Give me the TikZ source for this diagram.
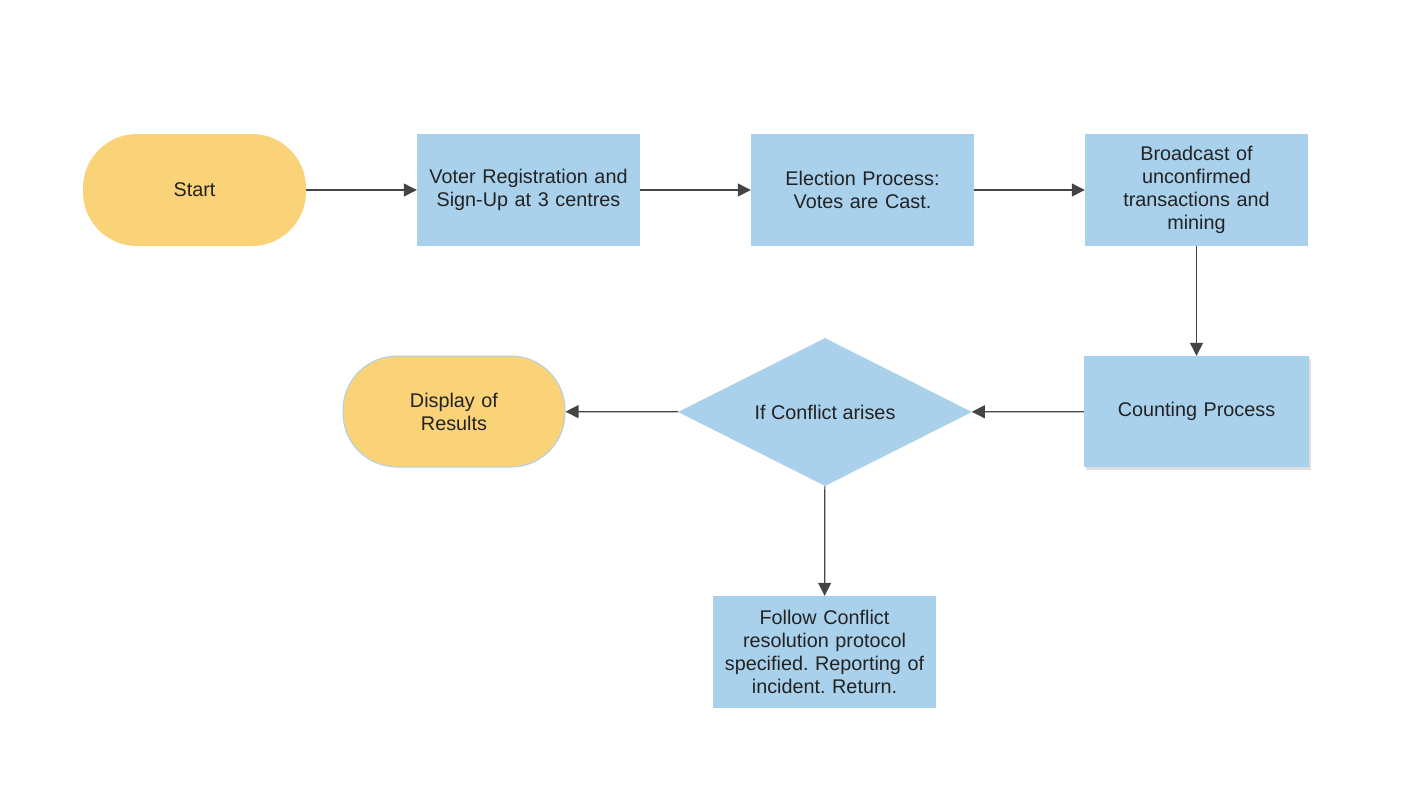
\documentclass[tikz,border=0pt]{standalone}
\usepackage{fontspec}
\setmainfont{Liberation Sans}
\frenchspacing
\usetikzlibrary{shapes.geometric,arrows.meta,shadows}
\definecolor{boxblue}{HTML}{AAD1EC}
\definecolor{termyellow}{HTML}{FAD278}
\definecolor{linegray}{HTML}{444444}
\definecolor{txt}{HTML}{222222}
\tikzset{
  every node/.style={font=\fontsize{19.8}{23}\selectfont, text=txt, align=center},
  procbox/.style={rectangle, fill=boxblue, minimum width=223pt, minimum height=112pt, inner sep=2pt, text width=219pt},
  termbox/.style={rectangle, rounded corners=54pt, fill=termyellow, minimum width=223pt, minimum height=112pt, text width=200pt},
  decbox/.style={diamond, fill=boxblue, minimum width=294pt, minimum height=148pt, inner sep=0pt, aspect=2},
  conn/.style={draw=linegray, line width=1.2pt, -{Triangle[length=13pt,width=13pt]}}
}
\begin{document}
\begin{tikzpicture}[x=1pt,y=-1pt]
\useasboundingbox (0,0) rectangle (1416,788);
\node[termbox] (start) at (194.5,190) {Start};
\node[procbox] (reg) at (528.5,190) {Voter Registration and\\ Sign-Up at 3 centres};
\node[procbox] (elec) at (862.5,190) {Election Process:\\ Votes are Cast.};
\node[procbox] (bcast) at (1196.5,190) {Broadcast of\\unconfirmed\\transactions and\\mining};
\node[procbox, minimum width=225pt, minimum height=111pt, drop shadow={shadow xshift=1.5pt, shadow yshift=-2.5pt, opacity=0.25, fill=gray}] (count) at (1196.5,411.5) {Counting Process};
\node[decbox] (dec) at (825,412) {If Conflict arises};
\node[termbox, draw=boxblue, line width=1pt, minimum width=222pt, minimum height=111pt] (disp) at (454,411.5) {Display of\\Results};
\node[procbox] (follow) at (824.5,652) {Follow Conflict\\resolution protocol\\specified. Reporting of\\incident. Return.};
\draw[conn] (start) -- (reg);
\draw[conn] (reg) -- (elec);
\draw[conn] (elec) -- (bcast);
\draw[conn] (bcast) -- (count);
\draw[conn] (count) -- (dec);
\draw[conn] (dec) -- (disp);
\draw[conn] (dec) -- (follow);
\end{tikzpicture}
\end{document}
